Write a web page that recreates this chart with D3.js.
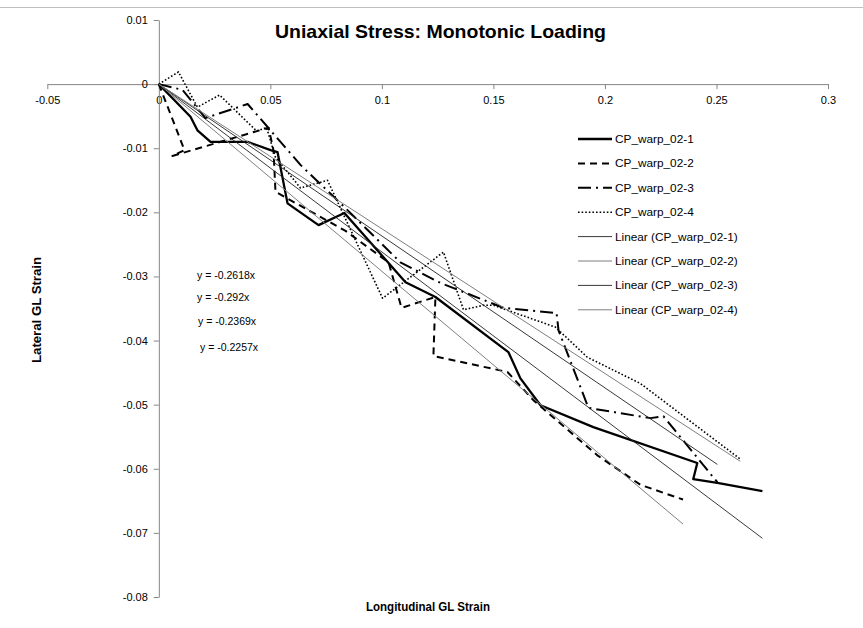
<!DOCTYPE html>
<html>
<head>
<meta charset="utf-8">
<script src="https://cdn.jsdelivr.net/npm/d3@7"></script>
<style>
body { margin: 0; background: #fff; }
svg text { font-family: "Liberation Sans", Arial, sans-serif; }
</style>
</head>
<body>
<svg id="chart" width="863" height="628"></svg>
<script>
// values (longitudinal, lateral)
const seriesNames = ["CP_warp_02-1", "CP_warp_02-2", "CP_warp_02-3", "CP_warp_02-4"];

const warp1 = [[0,0],[0.0142,-0.0051],[0.0173,-0.0072],[0.0232,-0.0090],[0.0398,-0.0090],
  [0.0501,-0.0103],[0.0532,-0.0106],[0.0577,-0.0186],[0.0716,-0.0220],[0.0832,-0.0201],
  [0.1106,-0.0309],[0.1240,-0.0332],[0.1567,-0.0418],[0.1621,-0.0459],[0.1711,-0.0501],
  [0.1948,-0.0535],[0.2414,-0.0591],[0.2396,-0.0616],[0.2504,-0.0622],[0.2706,-0.0635]];

const warp2 = [[0,0],[0.0115,-0.0103],[0.0061,-0.0112],[0.0492,-0.0068],[0.0514,-0.0103],
  [0.0523,-0.0168],[0.0837,-0.0229],[0.1030,-0.0278],[0.1088,-0.0349],[0.1240,-0.0332],
  [0.1231,-0.0424],[0.1442,-0.0440],[0.1563,-0.0449],[0.1679,-0.0493],[0.1966,-0.0579],
  [0.2159,-0.0625],[0.2350,-0.0648]];

const warp3 = [[0,0],[0.0106,-0.0009],[0.0209,-0.0053],[0.0398,-0.0031],[0.0635,-0.0126],
  [0.0815,-0.0186],[0.1083,-0.0278],[0.1262,-0.0310],[0.1545,-0.0349],[0.1783,-0.0357],
  [0.1792,-0.0384],[0.1926,-0.0505],[0.2204,-0.0521],[0.2262,-0.0518],[0.2504,-0.0621]];

const warp4 = [[0,0],[0.0088,0.0019],[0.0173,-0.0036],[0.0272,-0.0017],[0.0438,-0.0073],
  [0.0483,-0.0068],[0.0523,-0.0114],[0.0635,-0.0162],[0.0756,-0.0150],[0.1003,-0.0334],
  [0.1276,-0.0262],[0.1366,-0.0352],[0.1455,-0.0345],[0.1500,-0.0345],[0.1778,-0.0379],
  [0.1921,-0.0426],[0.2159,-0.0467],[0.2607,-0.0585]];

const slopes = [-0.2618, -0.292, -0.2369, -0.2257];
const xTicks = [-0.05, 0, 0.05, 0.1, 0.15, 0.2, 0.25, 0.3];
const yTicks = [0.01, 0, -0.01, -0.02, -0.03, -0.04, -0.05, -0.06, -0.07, -0.08];

const allSeries = [warp1, warp2, warp3, warp4];

// line looks
const seriesStyle = [
  {w: 2.3, dash: null},
  {w: 2, dash: "7,5"},
  {w: 2, dash: "13,5,2,5"},
  {w: 1.6, dash: "1.6,2"}
];
const trendStyle = [
  {c: "#222", w: 0.9},
  {c: "#7f7f7f", w: 1},
  {c: "#222", w: 0.9},
  {c: "#7f7f7f", w: 1}
];

const svg = d3.select("#chart");

// chart area top edge
svg.append("line").attr("x1", 0).attr("x2", 863).attr("y1", 7.5).attr("y2", 7.5)
  .attr("stroke", "#bfbfbf");

const x = d3.scaleLinear().domain([-0.05, 0.3]).range([47.3, 828]);
const y = d3.scaleLinear().domain([-0.08, 0.01]).range([597, 20]);

const xAxis = svg.append("g")
  .attr("transform", `translate(0,${y(0)})`)
  .call(d3.axisBottom(x).tickValues(xTicks).tickSize(5).tickSizeOuter(0).tickPadding(7)
    .tickFormat(d => String(d)));

const yAxis = svg.append("g")
  .attr("transform", `translate(${x(0)},0)`)
  .call(d3.axisLeft(y).tickValues(yTicks).tickSize(5).tickSizeOuter(0).tickPadding(6)
    .tickFormat(d => String(d)));

[xAxis, yAxis].forEach(g => {
  g.select(".domain").attr("stroke", "#868686");
  g.selectAll(".tick line").attr("stroke", "#868686");
  g.selectAll(".tick text").attr("fill", "#000").style("font-size", "11px")
    .style("font-family", "'Liberation Sans', Arial, sans-serif");
});

const line = d3.line().x(d => x(d[0])).y(d => y(d[1]));

// measured series
svg.append("g").selectAll("path")
  .data(allSeries)
  .enter()
  .append("path")
  .attr("d", d => line(d))
  .attr("fill", "none")
  .attr("stroke", "#000")
  .attr("stroke-width", (d, i) => seriesStyle[i].w)
  .attr("stroke-dasharray", (d, i) => seriesStyle[i].dash)
  .attr("stroke-linejoin", "round");

// linear trendlines through the origin
const trends = allSeries.map((s, i) => {
  const xmax = d3.max(s, d => d[0]);
  return [[0, 0], [xmax, slopes[i] * xmax]];
});

svg.append("g").selectAll("path")
  .data(trends)
  .enter()
  .append("path")
  .attr("d", d => line(d))
  .attr("fill", "none")
  .attr("stroke", (d, i) => trendStyle[i].c)
  .attr("stroke-width", (d, i) => trendStyle[i].w);

// equations
const eqPos = [[197, 279], [197, 301], [198, 325], [200, 351]];
svg.append("g").selectAll("text")
  .data(slopes)
  .enter()
  .append("text")
  .attr("x", (d, i) => eqPos[i][0])
  .attr("y", (d, i) => eqPos[i][1])
  .style("font-size", "10.5px")
  .attr("fill", "#000")
  .text(d => `y = ${d}x`);

// legend
const legendItems = seriesNames.map((n, i) => ({label: n, stroke: "#000", w: seriesStyle[i].w, dash: seriesStyle[i].dash}))
  .concat(seriesNames.map((n, i) => ({label: `Linear (${n})`, stroke: trendStyle[i].c, w: trendStyle[i].w, dash: null})));

const legend = svg.append("g").attr("transform", "translate(578,139)");
const li = legend.selectAll("g")
  .data(legendItems)
  .enter()
  .append("g")
  .attr("transform", (d, i) => `translate(0,${i * 24.4})`);
li.append("line")
  .attr("x1", 0).attr("x2", 34).attr("y1", 0).attr("y2", 0)
  .attr("stroke", d => d.stroke)
  .attr("stroke-width", d => d.w)
  .attr("stroke-dasharray", d => d.dash);
li.append("text")
  .attr("x", 37).attr("y", 4)
  .style("font-size", "11.8px")
  .attr("fill", "#000")
  .text(d => d.label);

// titles
svg.append("text")
  .attr("x", 440.5).attr("y", 38)
  .attr("text-anchor", "middle")
  .style("font-size", "19px").style("font-weight", "bold")
  .attr("textLength", 331).attr("lengthAdjust", "spacingAndGlyphs")
  .text("Uniaxial Stress: Monotonic Loading");

svg.append("text")
  .attr("x", 428).attr("y", 611)
  .attr("text-anchor", "middle")
  .style("font-size", "12px").style("font-weight", "bold")
  .attr("textLength", 124).attr("lengthAdjust", "spacingAndGlyphs")
  .text("Longitudinal GL Strain");

svg.append("text")
  .attr("transform", "translate(41,310) rotate(-90)")
  .attr("text-anchor", "middle")
  .style("font-size", "12px").style("font-weight", "bold")
  .attr("textLength", 106).attr("lengthAdjust", "spacingAndGlyphs")
  .text("Lateral GL Strain");
</script>
</body>
</html>
